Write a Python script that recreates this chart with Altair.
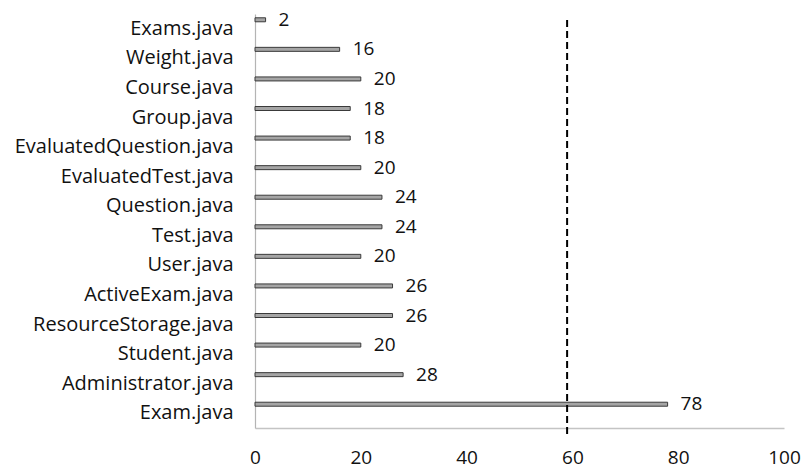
import altair as alt
import pandas as pd

# Classes and their counts, listed top to bottom
classes = [
    "Exams.java", "Weight.java", "Course.java", "Group.java",
    "EvaluatedQuestion.java", "EvaluatedTest.java", "Question.java",
    "Test.java", "User.java", "ActiveExam.java", "ResourceStorage.java",
    "Student.java", "Administrator.java", "Exam.java",
]
counts = [2, 16, 20, 18, 18, 20, 24, 24, 20, 26, 26, 20, 28, 78]
threshold = [59]
x_ticks = [0, 20, 40, 60, 80, 100]

df = pd.DataFrame({"cls": classes, "count": counts})
th = pd.DataFrame({"t": threshold})

FONT = "Open Sans"
FS = 19

x_scale = alt.Scale(domain=[0, 100], nice=False, zero=True)
y_scale = alt.Scale(domain=classes, paddingInner=0, paddingOuter=0)

y_axis = alt.Axis(orient="left", ticks=False, labelPadding=22,
                  labelFontSize=20, labelFont=FONT, labelColor="#111111",
                  domainColor="#b4b4b4", domainWidth=1.2,
                  grid=False, labelLimit=300)
x_axis = alt.Axis(orient="bottom", values=x_ticks, ticks=False, grid=False,
                  labelPadding=20, labelFontSize=FS, labelFont=FONT,
                  labelColor="#111111", domainColor="#c4c4c4",
                  domainWidth=1.5, labelFlush=False)

bars = alt.Chart(df).mark_bar(size=4, yOffset=-9, color="#a5a5a5",
                              stroke="#3a3a3a", strokeWidth=1).encode(
    y=alt.Y("cls:N", scale=y_scale, sort=classes, title=None, axis=y_axis),
    x=alt.X("count:Q", scale=x_scale, title=None, axis=x_axis),
)

labels = alt.Chart(df).mark_text(align="left", baseline="middle", dx=13,
                                 yOffset=-9, fontSize=FS, font=FONT,
                                 color="#111111").encode(
    y=alt.Y("cls:N", scale=y_scale, sort=classes, title=None, axis=y_axis),
    x=alt.X("count:Q", scale=x_scale, title=None, axis=x_axis),
    text=alt.Text("count:Q"),
)

limit = alt.Chart(th).mark_rule(color="#000000", strokeWidth=2,
                                strokeDash=[7, 4]).encode(
    x=alt.X("t:Q", scale=x_scale, title=None, axis=x_axis),
    y=alt.value(6),
    y2=alt.value(420),
)

chart = alt.layer(bars, labels, limit).properties(
    width=529,
    height=414,
    background="white",
    autosize=alt.AutoSizeParams(type="none"),
    padding={"left": 255, "top": 14, "right": 19, "bottom": 40},
).configure_view(stroke="transparent").configure_axis(grid=False)

chart.save("out.html", embed_options={"renderer": "svg", "actions": False})
